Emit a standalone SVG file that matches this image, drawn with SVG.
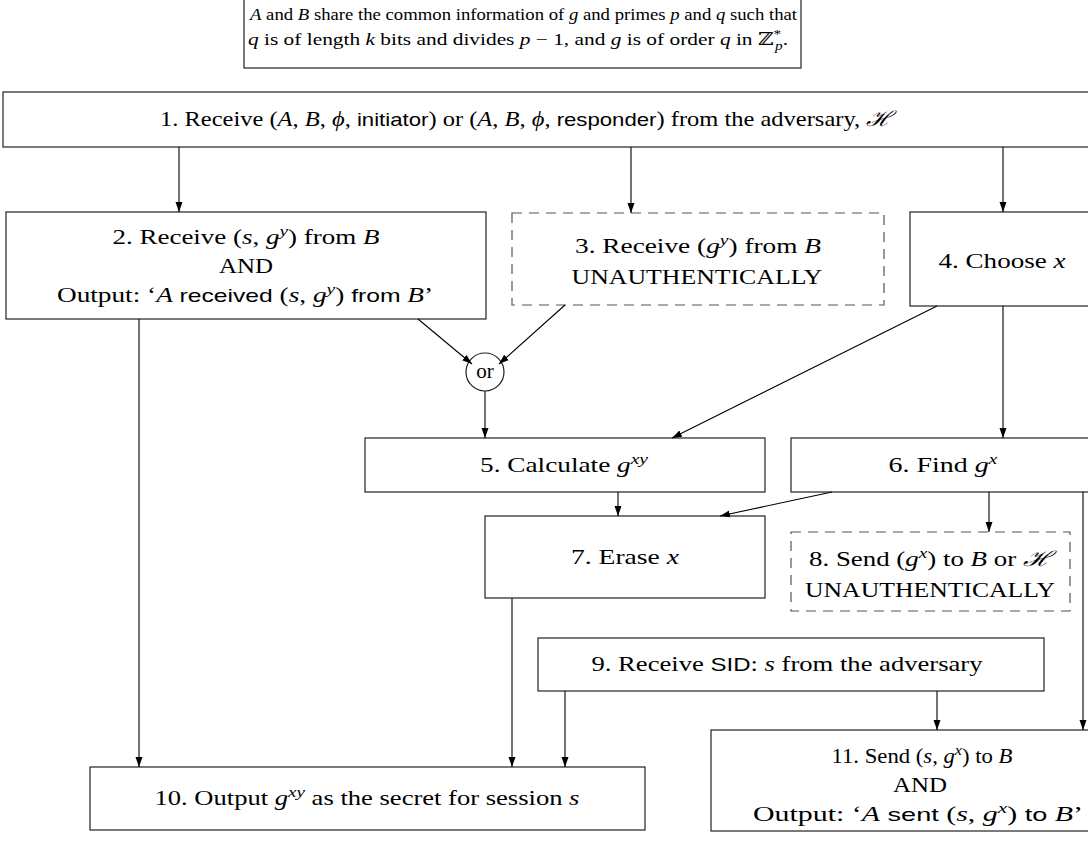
<svg xmlns="http://www.w3.org/2000/svg" width="1088" height="841" viewBox="0 0 1088 841">
<defs>
<style>
.t{font-family:"Liberation Serif","DejaVu Serif",serif;font-size:21px;fill:#000;text-anchor:middle}
.l{text-anchor:start}
.n{font-size:17.5px}
.i{font-style:italic}
.s{font-family:"Liberation Sans","DejaVu Sans",sans-serif;font-size:19px}
.sm{font-size:15px}
.nsm{font-size:12.5px}
.box{fill:#fff;stroke:#222;stroke-width:1.2}
.dash{fill:#fff;stroke:#555;stroke-width:1.2;stroke-dasharray:10 7}
.c{stroke:#000;stroke-width:1.1;fill:none}
.a{marker-end:url(#ah)}
</style>
<marker id="ah" markerWidth="10" markerHeight="8" refX="10" refY="4" orient="auto" markerUnits="userSpaceOnUse">
<path d="M0,0.5 L10,4 L0,7.5 z" fill="#000"/>
</marker>
</defs>
<rect width="1088" height="841" fill="#fff"/>

<g id="note">
<rect class="box" x="244" y="-5" width="557" height="73"/>
<text class="t l n" x="250" y="20" textLength="547" lengthAdjust="spacingAndGlyphs"><tspan class="i">A</tspan> and <tspan class="i">B</tspan> share the common information of <tspan class="i">g</tspan> and primes <tspan class="i">p</tspan> and <tspan class="i">q</tspan> such that</text>
<text class="t l n" x="248" y="45" textLength="540" lengthAdjust="spacingAndGlyphs"><tspan class="i">q</tspan> is of length <tspan class="i">k</tspan> bits and divides <tspan class="i">p</tspan> − 1, and <tspan class="i">g</tspan> is of order <tspan class="i">q</tspan> in ℤ<tspan class="nsm" dy="-7">*</tspan><tspan class="nsm i" dx="-5" dy="12">p</tspan><tspan dy="-5">.</tspan></text>
</g>

<g id="n1">
<rect class="box" x="3" y="92" width="1095" height="55"/>
<text class="t" x="526" y="126" textLength="732" lengthAdjust="spacingAndGlyphs">1. Receive (<tspan class="i">A</tspan>, <tspan class="i">B</tspan>, <tspan class="i">ϕ</tspan>, <tspan class="s">initiator</tspan>) or (<tspan class="i">A</tspan>, <tspan class="i">B</tspan>, <tspan class="i">ϕ</tspan>, <tspan class="s">responder</tspan>) from the adversary, <tspan class="i">ℋ</tspan></text>
</g>

<g id="n2">
<rect class="box" x="6" y="212" width="480" height="107"/>
<text class="t" x="246" y="244" textLength="267" lengthAdjust="spacingAndGlyphs">2. Receive (<tspan class="i">s</tspan>, <tspan class="i">g</tspan><tspan class="sm i" dy="-8">y</tspan><tspan dy="8">) from </tspan><tspan class="i">B</tspan></text>
<text class="t" x="246" y="273" textLength="54" lengthAdjust="spacingAndGlyphs">AND</text>
<text class="t" x="245" y="302" textLength="376" lengthAdjust="spacingAndGlyphs">Output: ‘<tspan class="i">A</tspan> <tspan class="s">received</tspan> (<tspan class="i">s</tspan>, <tspan class="i">g</tspan><tspan class="sm i" dy="-8">y</tspan><tspan dy="8">) </tspan><tspan class="s">from</tspan> <tspan class="i">B</tspan>’</text>
</g>

<g id="n3">
<rect class="dash" x="512" y="213" width="372" height="92"/>
<text class="t" x="698" y="253" textLength="246" lengthAdjust="spacingAndGlyphs">3. Receive (<tspan class="i">g</tspan><tspan class="sm i" dy="-8">y</tspan><tspan dy="8">) from </tspan><tspan class="i">B</tspan></text>
<text class="t" x="697" y="284" textLength="251" lengthAdjust="spacingAndGlyphs">UNAUTHENTICALLY</text>
</g>

<g id="n4">
<rect class="box" x="910" y="212" width="188" height="94"/>
<text class="t" x="1002" y="268" textLength="127" lengthAdjust="spacingAndGlyphs">4. Choose <tspan class="i">x</tspan></text>
</g>

<g id="or">
<circle class="box" cx="485" cy="372" r="19"/>
<text class="t" x="485" y="378">or</text>
</g>

<g id="n5">
<rect class="box" x="365" y="438" width="400" height="54"/>
<text class="t" x="564" y="472" textLength="168" lengthAdjust="spacingAndGlyphs">5. Calculate <tspan class="i">g</tspan><tspan class="sm i" dy="-8">xy</tspan></text>
</g>

<g id="n6">
<rect class="box" x="791" y="438" width="307" height="54"/>
<text class="t" x="943" y="472" textLength="109" lengthAdjust="spacingAndGlyphs">6. Find <tspan class="i">g</tspan><tspan class="sm i" dy="-8">x</tspan></text>
</g>

<g id="n7">
<rect class="box" x="485" y="516" width="280" height="82"/>
<text class="t" x="625" y="564" textLength="108" lengthAdjust="spacingAndGlyphs">7. Erase <tspan class="i">x</tspan></text>
</g>

<g id="n8">
<rect class="dash" x="791" y="532" width="279" height="79"/>
<text class="t" x="930" y="566" textLength="242" lengthAdjust="spacingAndGlyphs">8. Send (<tspan class="i">g</tspan><tspan class="sm i" dy="-8">x</tspan><tspan dy="8">) to </tspan><tspan class="i">B</tspan> or <tspan class="i">ℋ</tspan></text>
<text class="t" x="930" y="597" textLength="250" lengthAdjust="spacingAndGlyphs">UNAUTHENTICALLY</text>
</g>

<g id="n9">
<rect class="box" x="538" y="638" width="506" height="53"/>
<text class="t" x="787" y="671" textLength="391" lengthAdjust="spacingAndGlyphs">9. Receive <tspan class="s">SID</tspan>: <tspan class="i">s</tspan> from the adversary</text>
</g>

<g id="n10">
<rect class="box" x="90" y="767" width="555" height="63"/>
<text class="t" x="367" y="805" textLength="425" lengthAdjust="spacingAndGlyphs">10. Output <tspan class="i">g</tspan><tspan class="sm i" dy="-8">xy</tspan><tspan dy="8"> as the secret for session </tspan><tspan class="i">s</tspan></text>
</g>

<g id="n11">
<rect class="box" x="711" y="730" width="420" height="101"/>
<text class="t" x="922" y="763" textLength="181" lengthAdjust="spacingAndGlyphs">11. Send (<tspan class="i">s</tspan>, <tspan class="i">g</tspan><tspan class="sm i" dy="-8">x</tspan><tspan dy="8">) to </tspan><tspan class="i">B</tspan></text>
<text class="t" x="920" y="792" textLength="54" lengthAdjust="spacingAndGlyphs">AND</text>
<text class="t" x="918" y="821" textLength="330" lengthAdjust="spacingAndGlyphs">Output: ‘<tspan class="i">A</tspan> <tspan class="s">sent</tspan> (<tspan class="i">s</tspan>, <tspan class="i">g</tspan><tspan class="sm i" dy="-8">x</tspan><tspan dy="8">) </tspan><tspan class="s">to</tspan> <tspan class="i">B</tspan>’</text>
</g>

<g id="connectors">
<line class="c a" x1="179" y1="147" x2="179" y2="212"/>
<line class="c a" x1="631" y1="147" x2="631" y2="213"/>
<line class="c a" x1="1003" y1="147" x2="1003" y2="212"/>
<line class="c a" x1="418" y1="319" x2="472" y2="364"/>
<line class="c a" x1="565" y1="305" x2="499" y2="364"/>
<line class="c a" x1="485" y1="391" x2="485" y2="438"/>
<line class="c a" x1="937" y1="306" x2="672" y2="438"/>
<line class="c a" x1="1003" y1="306" x2="1003" y2="438"/>
<line class="c a" x1="618" y1="492" x2="618" y2="516"/>
<line class="c a" x1="832" y1="492" x2="720" y2="516"/>
<line class="c a" x1="989" y1="492" x2="989" y2="532"/>
<line class="c a" x1="1083" y1="492" x2="1083" y2="730"/>
<line class="c a" x1="937" y1="691" x2="937" y2="730"/>
<line class="c a" x1="139" y1="319" x2="139" y2="767"/>
<line class="c a" x1="512" y1="598" x2="512" y2="767"/>
<line class="c a" x1="565" y1="691" x2="565" y2="767"/>
</g>
</svg>
